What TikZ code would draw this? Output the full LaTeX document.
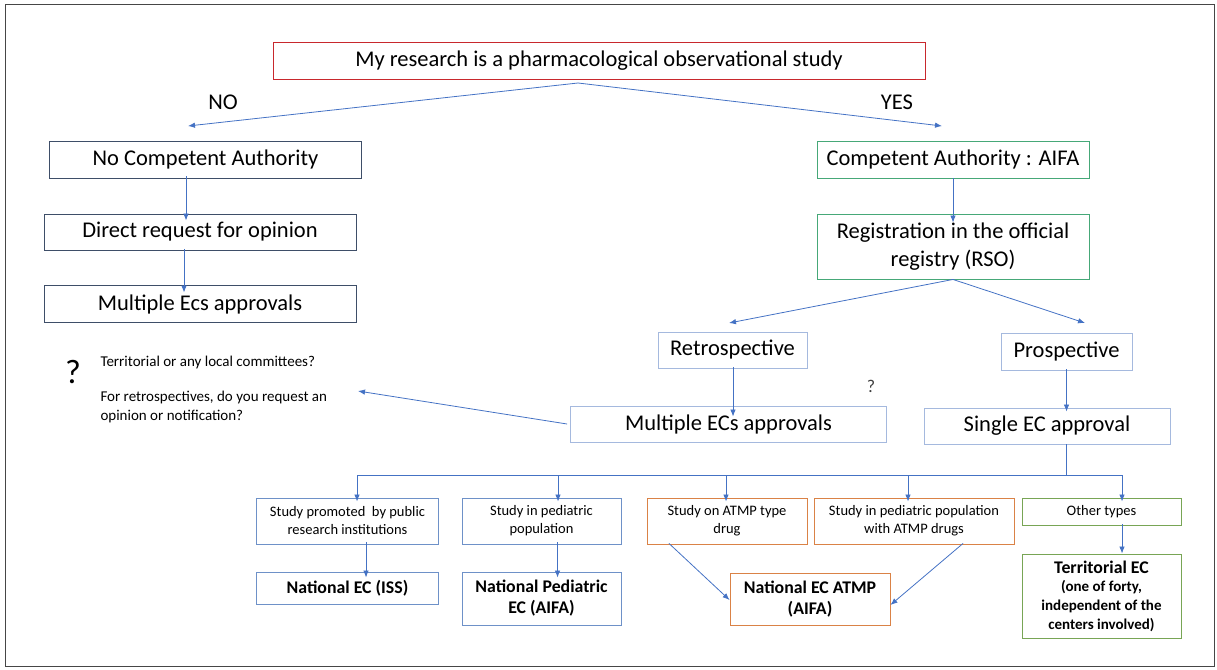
\documentclass[tikz,border=0pt]{standalone}
\usepackage{fontspec}
\setmainfont{Carlito}
\usetikzlibrary{arrows.meta}
\definecolor{frameC}{RGB}{70,70,70}
\definecolor{redC}{RGB}{200,40,45}
\definecolor{navyC}{RGB}{62,78,104}
\definecolor{tealC}{RGB}{70,168,120}
\definecolor{lightC}{RGB}{165,185,222}
\definecolor{midC}{RGB}{110,145,200}
\definecolor{orangeC}{RGB}{218,130,70}
\definecolor{oliveC}{RGB}{120,165,85}
\definecolor{arrC}{RGB}{68,114,196}
\newcommand{\bigF}{\fontsize{22.5}{28}\selectfont}
\newcommand{\smF}{\fontsize{14.5}{18}\selectfont}
\newcommand{\bdF}{\fontsize{17.8}{21}\selectfont\bfseries}
\newcommand{\qF}{\fontsize{15}{19}\selectfont}
\begin{document}
\begin{tikzpicture}[x=1pt,y=-1pt,
  box/.style={draw, line width=0.9pt, inner sep=0pt, align=center, text=black},
  arr/.style={draw=arrC, line width=0.8pt, -{Latex[length=7pt,width=5.5pt]}},
  ln/.style={draw=arrC, line width=0.9pt}]
\useasboundingbox (0,0) rectangle (1217,669);
\draw[frameC, line width=1pt] (5,5) rectangle (1214,666);

% top
\node[box, draw=redC, minimum width=652pt, minimum height=37pt, font=\bigF] (top) at (599,61) {My research is a pharmacological observational study};
\coordinate (split) at (578,83);
\coordinate (notip) at (188,126);
\coordinate (yestip) at (942,126);
\draw[arr] (split) -- (notip);
\draw[arr] (split) -- (yestip);
\node[font=\bigF] (nolab) at (223,102) {NO};
\node[font=\bigF] (yeslab) at (897,102) {YES};

% left column
\node[box, draw=navyC, minimum width=312pt, minimum height=37pt, font=\bigF] (nca) at (205.5,159.5) {No Competent Authority};
\node[box, draw=navyC, minimum width=312pt, minimum height=36pt, font=\bigF] (dro) at (200,232) {Direct request for opinion};
\node[box, draw=navyC, minimum width=312pt, minimum height=37pt, font=\bigF] (mea) at (200,304) {Multiple Ecs approvals};
\draw[arr] ([xshift=-19.5pt,yshift=2pt]nca.south) -- ([xshift=-14pt,yshift=-7pt]dro.north);
\draw[arr] ([xshift=-16pt,yshift=1.5pt]dro.south) -- ([xshift=-16pt,yshift=-7.5pt]mea.north);

% right column
\node[box, draw=tealC, minimum width=272pt, minimum height=37pt, font=\bigF] (ca) at (953,159.5) {Competent Authority : AIFA};
\node[box, draw=tealC, minimum width=272pt, minimum height=65pt, font=\bigF] (reg) at (953,246.5) {Registration in the official\\registry (RSO)};
\draw[arr] (ca.south) -- ([yshift=-9pt]reg.north);
\coordinate (rtip) at (729,323);
\coordinate (ptip) at (1085,323);
\draw[arr] (reg.south) -- (rtip);
\draw[arr] (reg.south) -- (ptip);

\node[box, draw=lightC, minimum width=149pt, minimum height=36pt, font=\bigF] (retro) at (732.5,350) {Retrospective};
\node[box, draw=lightC, minimum width=131pt, minimum height=37pt, font=\bigF] (pros) at (1066.5,351.5) {Prospective};
\node[box, draw=lightC, minimum width=316pt, minimum height=36pt, font=\bigF] (mec) at (728.5,424) {Multiple ECs approvals};
\node[box, draw=lightC, minimum width=246pt, minimum height=36pt, font=\bigF] (sec) at (1047,426) {Single EC approval};
\draw[arr] ([xshift=0.5pt,yshift=1pt]retro.south) -- ([xshift=4.5pt,yshift=-11pt]mec.north);
\draw[arr] ([yshift=1pt]pros.south) -- ([xshift=19.5pt,yshift=-4pt]sec.north);
\node[font=\fontsize{18}{18}\selectfont\rmfamily, text=black!75] (q2) at (871,386) {?};

% question block
\node[font=\fontsize{34}{34}\selectfont\rmfamily] (q1) at (73,372) {?};
\node[font=\qF, anchor=west] (t1) at (97,362) {Territorial or any local committees?};
\node[font=\qF, anchor=north west, align=left] (t2) at (97,388) {For retrospectives, do you request an\\opinion or notification?};
\coordinate (qtip) at (358,391);
\draw[arr] ([xshift=-3pt]mec.west) -- (qtip);

% bottom row
\node[box, draw=midC, minimum width=182pt, minimum height=46pt, font=\smF] (b1) at (347.5,521) {Study promoted \ by public\\research institutions};
\node[box, draw=midC, minimum width=159pt, minimum height=46pt, font=\smF] (b2) at (541.5,521) {Study in pediatric\\population};
\node[box, draw=orangeC, minimum width=160pt, minimum height=46pt, font=\smF] (b3) at (727,521) {Study on ATMP type\\drug};
\node[box, draw=orangeC, minimum width=200pt, minimum height=46pt, font=\smF] (b4) at (914,521) {Study in pediatric population\\with ATMP drugs};
\node[box, draw=oliveC, minimum width=159pt, minimum height=27pt, font=\smF] (b5) at (1101.5,511.5) {Other types};

\coordinate (busL) at (357,475);
\coordinate (busR) at (1122,475);
\draw[ln] (sec.south -| 1066,0) -- (1066,475);
\draw[ln] (busL) -- (busR);
\draw[arr] (busL) -- ([xshift=9.5pt,yshift=-4pt]b1.north);
\draw[arr] (558,475) -- ([xshift=16.5pt,yshift=-4pt]b2.north);
\draw[arr] (726,475) -- ([xshift=-1pt,yshift=-4pt]b3.north);
\draw[arr] (908,475) -- ([xshift=-6pt,yshift=-4pt]b4.north);
\draw[arr] (busR) -- ([xshift=20.5pt,yshift=-4pt]b5.north);

% final row
\node[box, draw=midC, minimum width=182pt, minimum height=32pt, font=\bdF] (n1) at (347.5,588) {National EC (ISS)};
\node[box, draw=midC, minimum width=159pt, minimum height=53pt, font=\bdF] (n2) at (541.5,598.5) {National Pediatric\\EC (AIFA)};
\node[box, draw=orangeC, minimum width=160pt, minimum height=52pt, font=\bdF] (n3) at (810,599) {National EC ATMP\\(AIFA)};
\node[box, draw=oliveC, minimum width=159pt, minimum height=84pt, align=center, font=\fontsize{15}{18.7}\selectfont\bfseries] (n4) at (1101.5,596) {{\fontsize{17.8}{18.7}\selectfont Territorial EC}\\(one of forty,\\independent of the\\centers involved)};

\draw[arr] ([xshift=18.5pt,yshift=2pt]b1.south) -- ([xshift=18.5pt,yshift=-6pt]n1.north);
\draw[arr] ([xshift=16pt,yshift=2pt]b2.south) -- ([xshift=16pt,yshift=-6pt]n2.north);
\draw[arr] ([xshift=-58pt,yshift=1pt]b3.south) -- ([yshift=-1pt]n3.west);
\draw[arr] ([xshift=49pt,yshift=1pt]b4.south) -- ([yshift=-6pt]n3.east);
\draw[arr] ([xshift=20.5pt,yshift=1pt]b5.south) -- ([xshift=20.5pt]n4.north);
\end{tikzpicture}
\end{document}
